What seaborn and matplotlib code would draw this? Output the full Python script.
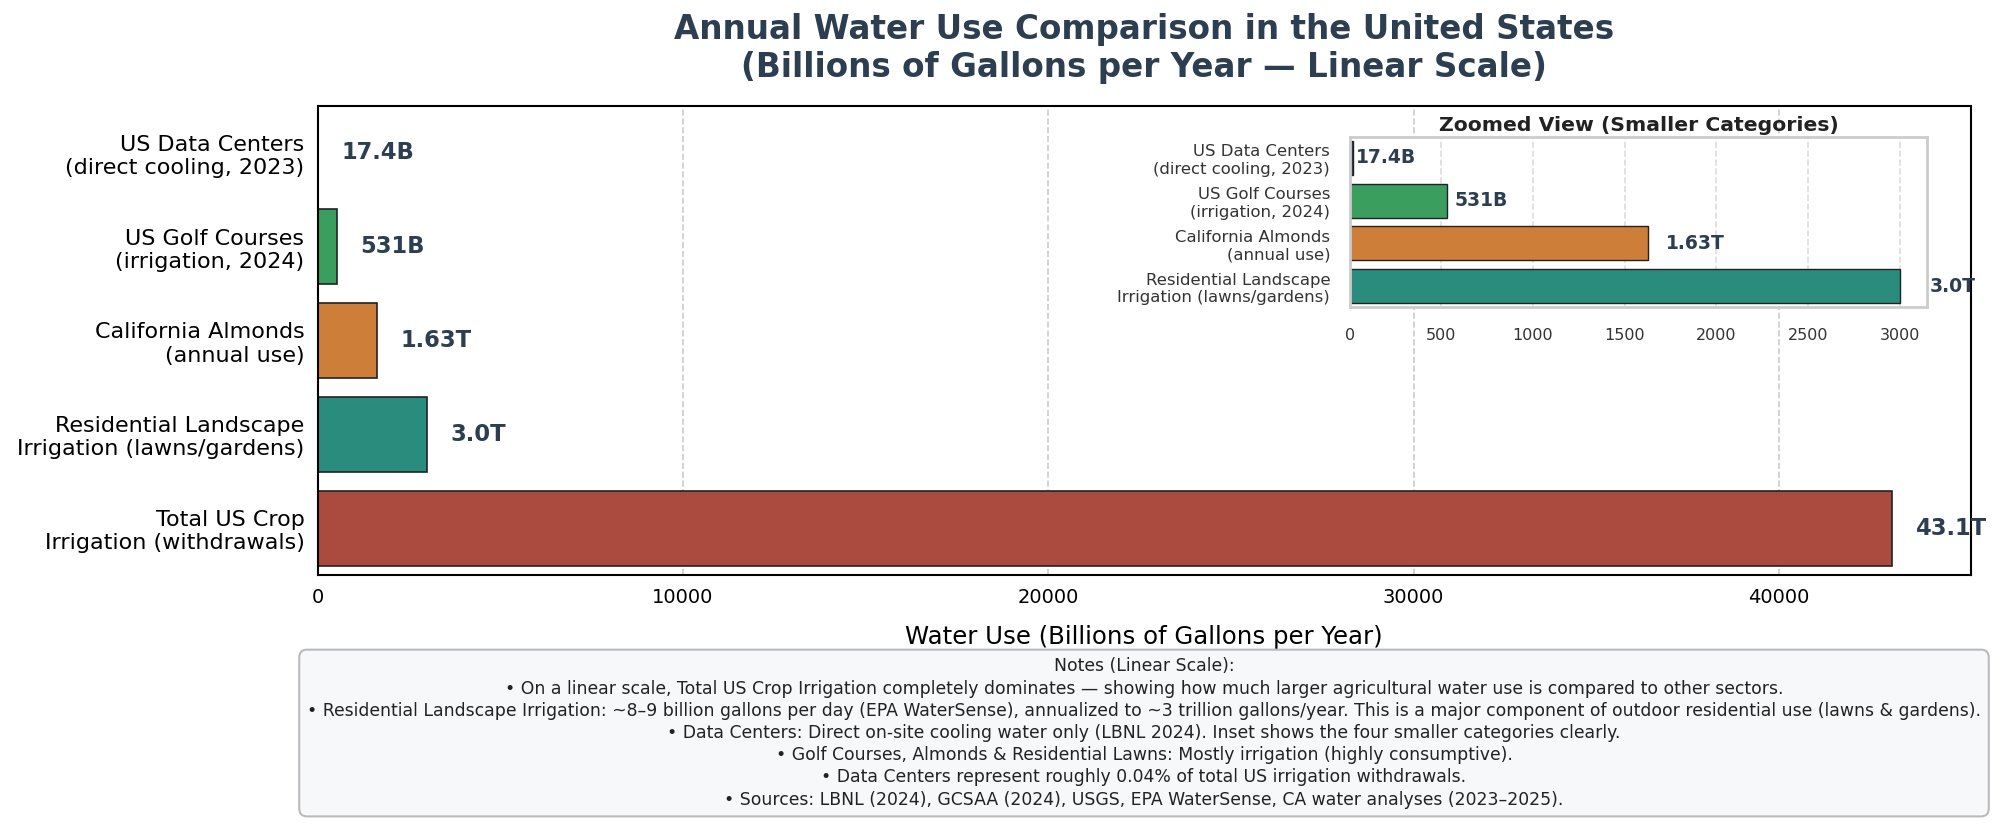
import matplotlib
matplotlib.use("Agg")
import matplotlib.pyplot as plt
import seaborn as sns

# --- Dados (bilhões de galões por ano) ---
categorias = [
    "US Data Centers\n(direct cooling, 2023)",
    "US Golf Courses\n(irrigation, 2024)",
    "California Almonds\n(annual use)",
    "Residential Landscape\nIrrigation (lawns/gardens)",
    "Total US Crop\nIrrigation (withdrawals)",
]
valores = [17.4, 531, 1630, 3000, 43100]
rotulos = ["17.4B", "531B", "1.63T", "3.0T", "43.1T"]
cores = ["#2c3e50", "#3a9e5f", "#cd7f3a", "#2a8c7c", "#ab4a3f"]

notas = [
    "Notes (Linear Scale):",
    "• On a linear scale, Total US Crop Irrigation completely dominates — showing how much larger agricultural water use is compared to other sectors.",
    "• Residential Landscape Irrigation: ~8–9 billion gallons per day (EPA WaterSense), annualized to ~3 trillion gallons/year. This is a major component of outdoor residential use (lawns & gardens).",
    "• Data Centers: Direct on-site cooling water only (LBNL 2024). Inset shows the four smaller categories clearly.",
    "• Golf Courses, Almonds & Residential Lawns: Mostly irrigation (highly consumptive).",
    "• Data Centers represent roughly 0.04% of total US irrigation withdrawals.",
    "• Sources: LBNL (2024), GCSAA (2024), USGS, EPA WaterSense, CA water analyses (2023–2025).",
]

TITULO_COR = "#2c3e50"

sns.set_theme(style="whitegrid")
plt.rcParams["font.family"] = ["DejaVu Sans"]

fig = plt.figure(figsize=(20, 8.24), dpi=100)

# --- Gráfico principal ---
ax = fig.add_axes([0.1588, 0.3022, 0.8267, 0.5692])
sns.barplot(x=valores, y=categorias, hue=categorias, palette=cores, legend=False,
            edgecolor="#222222", linewidth=1.2, saturation=1, ax=ax)

maximo = max(valores)
ax.set_xlim(0, maximo * 1.05)
ax.grid(axis="x", linestyle="--", color="#cccccc", linewidth=1.2)
ax.grid(axis="y", visible=False)
for lado in ax.spines.values():
    lado.set_color("black")
    lado.set_linewidth(1.5)
ax.tick_params(axis="both", length=6, width=1.2, color="black", labelcolor="black")
ax.tick_params(axis="y", labelsize=16)
ax.tick_params(axis="x", labelsize=14)
ax.set_xlabel("Water Use (Billions of Gallons per Year)", fontsize=17.6, color="black", labelpad=13)
ax.set_ylabel("")
ax.set_title("Annual Water Use Comparison in the United States\n(Billions of Gallons per Year — Linear Scale)",
             fontsize=23.5, fontweight="bold", color=TITULO_COR, pad=21)

for i, (v, r) in enumerate(zip(valores, rotulos)):
    ax.text(v + maximo * 0.015, i, r, va="center", ha="left",
            fontsize=16.3, fontweight="bold", color=TITULO_COR)

# --- Inset com as categorias menores ---
axins = fig.add_axes([0.6748, 0.6269, 0.2888, 0.2074])
axins.set_facecolor("white")
sns.barplot(x=valores[:4], y=categorias[:4], hue=categorias[:4], palette=cores[:4], legend=False,
            edgecolor="#222222", linewidth=1.0, saturation=1, ax=axins)
max_ins = max(valores[:4])
axins.set_xlim(0, max_ins * 1.05)
axins.grid(axis="x", linestyle="--", color="#dddddd", linewidth=1.2)
axins.grid(axis="y", visible=False)
for lado in axins.spines.values():
    lado.set_color("#cccccc")
    lado.set_linewidth(2)
axins.tick_params(axis="both", length=0, labelcolor="#333333")
axins.tick_params(axis="y", labelsize=11.85, pad=14)
axins.tick_params(axis="x", labelsize=11.5, pad=15)
axins.set_ylabel("")
axins.set_title("Zoomed View (Smaller Categories)", fontsize=14.7, fontweight="bold",
                color="#222222", pad=4)
for i, (v, r) in enumerate(zip(valores[:4], rotulos[:4])):
    axins.text(v * 1.05 + 15, i, r, va="center", ha="left",
               fontsize=13.5, fontweight="bold", color=TITULO_COR)

# --- Caixa de notas ---
fig.text(0.572, 0.1104, "\n".join(notas), ha="center", va="center",
         fontsize=12.42, color="#222222", linespacing=1.3,
         bbox=dict(boxstyle="round,pad=0.45", facecolor="#f6f8fa",
                   edgecolor="#bbbbbb", linewidth=1.5))

fig.savefig("out.png", dpi=100)
